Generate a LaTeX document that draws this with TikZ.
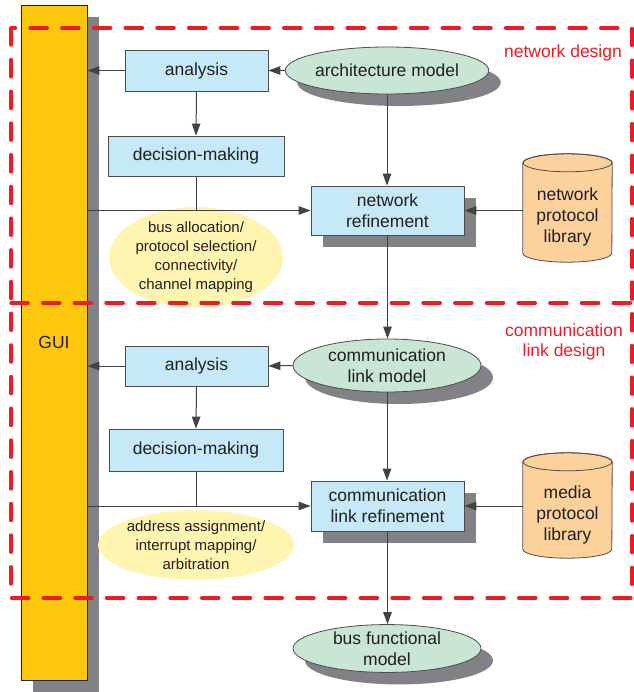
\documentclass[tikz,border=0pt]{standalone}
\usepackage{fontspec}
\setmainfont{Liberation Sans}
\usetikzlibrary{arrows.meta,shadows,shapes.geometric,backgrounds}
\definecolor{ink}{HTML}{231F20}
\definecolor{guiyellow}{HTML}{FDC70C}
\definecolor{shade}{HTML}{808285}
\definecolor{boxblue}{HTML}{C6E9F8}
\definecolor{modelgreen}{HTML}{C9E5D3}
\definecolor{noteyellow}{HTML}{FFF5B1}
\definecolor{libraryorange}{HTML}{FDD19C}
\definecolor{regionred}{HTML}{ED1C24}

\begin{document}
\begin{tikzpicture}[x=1pt,y=1pt,
  font=\fontsize{17.5}{21}\selectfont, text=ink,
  shadowed/.style={drop shadow={shadow xshift=12pt,shadow yshift=-12pt,fill=shade,opacity=1}},
  task/.style={rectangle, draw=ink!80, line width=0.8pt, fill=boxblue, inner sep=0pt, align=center},
  model/.style={ellipse, draw=ink!80, line width=0.8pt, fill=modelgreen, inner sep=0pt, align=center, shadowed},
  note/.style={ellipse, fill=noteyellow, inner sep=0pt, align=center, font=\fontsize{15}{19}\selectfont},
  library/.style={rectangle, inner sep=0pt, minimum width=89pt, align=center},
  flow/.style={draw=ink!85, line width=1pt, -{Triangle[length=12pt,width=8.5pt]}},
  link/.style={draw=ink!85, line width=1pt},
  region/.style={draw=regionred, line width=3.5pt, line cap=round, dash pattern=on 17pt off 14.7pt},
  regionlabel/.style={text=regionred, align=center, font=\fontsize{17.5}{20}\selectfont}
]
\useasboundingbox (0,0) rectangle (633,-692);

% GUI column
\node[rectangle, fill=guiyellow, draw=ink, line width=0.8pt, shadowed,
      minimum width=66pt, minimum height=675pt, inner sep=0pt] (gui) at (54,-342.5) {GUI};

% ---- network design ----
\node[task, minimum width=143pt, minimum height=41pt] (an1) at (196.5,-70.5) {analysis};
\node[task, minimum width=176pt, minimum height=40pt] (dm1) at (196,-156) {decision-making};
\node[model, minimum width=188pt, minimum height=47pt] (arch) at (387,-70.5) {architecture model};
\node[task, shadowed, minimum width=153pt, minimum height=49pt] (netref) at (387.5,-210.5) {network\\refinement};
\node[note, minimum width=174pt, minimum height=80pt] (n1) at (196,-257.5)
  {bus allocation/\\protocol selection/\\connectivity/\\channel mapping};
\node[library, minimum height=90pt] (npl) at (567.5,-217) {network\\protocol\\library};

% ---- communication link design ----
\node[task, minimum width=143pt, minimum height=40pt] (an2) at (196.5,-366) {analysis};
\node[task, minimum width=174pt, minimum height=42pt] (dm2) at (196,-450) {decision-making};
\node[model, minimum width=188pt, minimum height=53pt] (clm) at (387,-365.5) {communication\\link model};
\node[task, shadowed, minimum width=153pt, minimum height=50pt] (commref) at (387.5,-506) {communication\\link refinement};
\node[note, minimum width=186pt, minimum height=64pt] (n2) at (196,-545)
  {address assignment/\\interrupt mapping/\\arbitration};
\node[library, minimum height=87pt] (mpl) at (567.5,-514.5) {media\\protocol\\library};

% result
\node[model, minimum width=188pt, minimum height=47pt] (bfm) at (387,-648.5) {bus functional\\model};

% library cylinders behind their labels
\begin{scope}[on background layer]
  \foreach \lib in {npl,mpl}{
    \path[fill=libraryorange, draw=ink!80, line width=0.8pt]
      ([yshift=9pt]\lib.north west) -- ([yshift=9pt]\lib.south west)
      arc[start angle=180, end angle=360, x radius=44.5pt, y radius=9pt]
      -- ([yshift=9pt]\lib.north east)
      arc[start angle=0, end angle=180, x radius=44.5pt, y radius=9pt] -- cycle;
    \draw[ink!80, line width=0.8pt] ([yshift=9pt]\lib.north) ellipse [x radius=44.5pt, y radius=9pt];
  }
\end{scope}

% connectors: network design
\draw[flow] (an1.west) -- (gui.east |- an1.west);
\draw[flow] (arch.west) -- (an1.east);
\draw[flow] (an1.south) -- (dm1.north);
\draw[flow] (arch.south) -- (arch.south |- netref.north);
\coordinate (j1) at (dm1.south |- netref.west);
\draw[link] (dm1.south) -- (j1);
\draw[flow] (gui.east |- netref.west) -- (netref.west);
\draw[flow] (npl.west |- netref.east) -- (netref.east);
\draw[flow] (netref.south) -- (netref.south |- clm.north);

% connectors: communication link design
\draw[flow] (an2.west) -- (gui.east |- an2.west);
\draw[flow] (clm.west) -- (an2.east);
\draw[flow] (an2.south) -- (dm2.north);
\draw[flow] (clm.south) -- (clm.south |- commref.north);
\coordinate (j2) at (dm2.south |- commref.west);
\draw[link] (dm2.south) -- (j2);
\draw[flow] (gui.east |- commref.west) -- (commref.west);
\draw[flow] (mpl.west |- commref.east) -- (commref.east);
\draw[flow] (commref.south) -- (commref.south |- bfm.north);

% design regions
\draw[region] (11,-28) rectangle (632,-598);
\draw[region] (11,-303) -- (632,-303);
\node[regionlabel] (nd) at (563,-53) {network design};
\node[regionlabel] (cld) at (564,-342) {communication\\link design};
\end{tikzpicture}
\end{document}
